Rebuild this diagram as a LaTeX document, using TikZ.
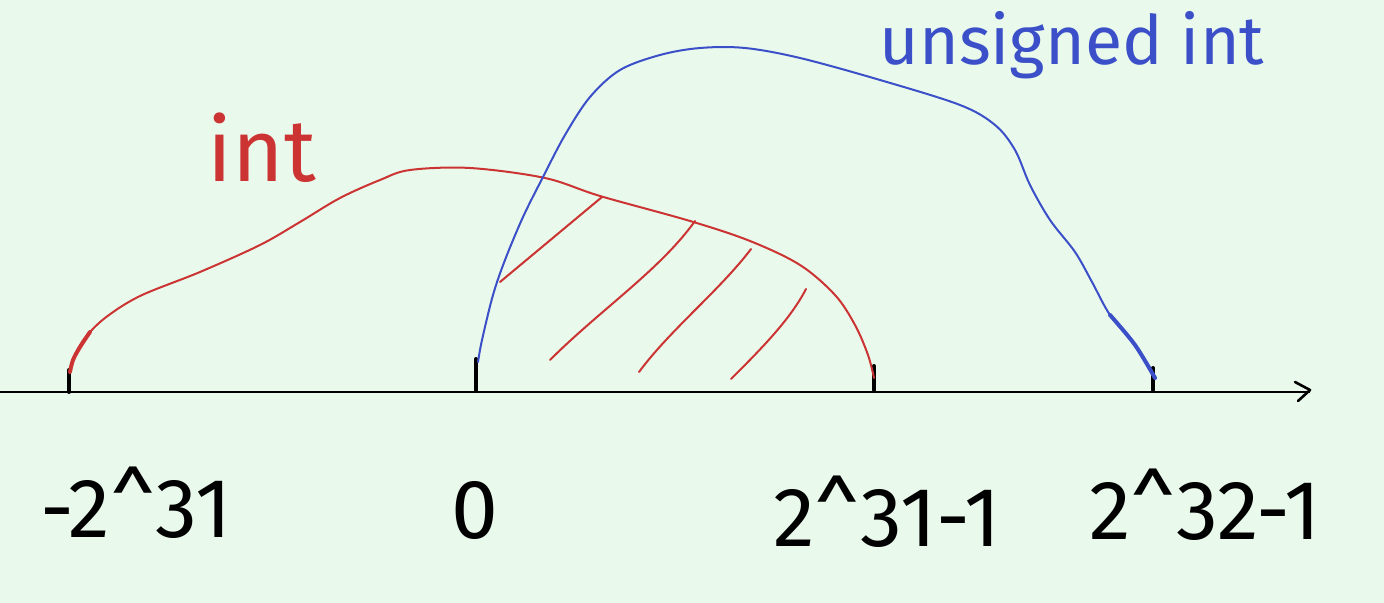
\documentclass[tikz,border=0pt]{standalone}
\usepackage{fontspec}
\setmainfont{Fira Sans}
\definecolor{bg}{HTML}{E9F9EC}
\definecolor{rd}{HTML}{CC3333}
\definecolor{bl}{HTML}{3B4FC8}
\tikzset{
  tick/.style={line width=2pt, line cap=round},
  curve/.style={line width=1pt, line cap=round, line join=round},
  numlabel/.style={font=\fontsize{42}{46}\selectfont, text=black, inner sep=0pt},
}
\begin{document}
\begin{tikzpicture}[x=0.5pt,y=-0.5pt]
\fill[bg] (0,0) rectangle (1384,603);
\useasboundingbox (0,0) rectangle (1384,603);
% axis
\coordinate (a0) at (0,392);
\coordinate (a1) at (1310,392);
\draw[line width=1pt] (a0) -- (a1);
\draw[line width=1.3pt, line cap=round, line join=round] (1295,382) -- (1310,390) -- (1298,401);
% ticks
\coordinate (t1) at (69,392); \coordinate (t2) at (476,390);
\coordinate (t3) at (874,390); \coordinate (t4) at (1153,390);
\draw[tick] (t1) -- ++(0,-22);
\draw[tick] (t2) -- ++(0,-31);
\draw[tick] (t3) -- ++(0,-24);
\draw[tick] (t4) -- ++(0,-22);
% int curve
\draw[rd, curve] plot[smooth, tension=0.55] coordinates {(70,370) (74,357) (85,338) (105,318) (140,296) (200,272) (260,245) (300,222) (340,198) (380,180) (410,170) (470,168) (545,178) (600,196) (690,221) (750,241) (800,265) (835,295) (855,325) (868,355) (874,378)};
\draw[rd, line width=2pt, line cap=round] plot[smooth, tension=0.55] coordinates {(70,372) (73,360) (80,347) (90,332)};
% unsigned int curve
\draw[bl, curve] plot[smooth, tension=0.55] coordinates {(478,362) (482,340) (493,295) (505,260) (523,217) (543,177) (565,135) (590,97) (620,70) (660,55) (700,48) (745,48) (800,58) (880,80) (960,105) (995,125) (1015,150) (1030,185) (1050,220) (1075,252) (1092,282) (1110,315) (1135,345) (1155,378)};
\draw[bl, line width=2pt, line cap=round] plot[smooth, tension=0.55] coordinates {(1110,315) (1135,345) (1155,378)};
% hatching
\draw[rd, curve] (500,282) -- (602,197);
\draw[rd, curve] (550,360) .. controls (600,310) and (660,270) .. (695,221);
\draw[rd, curve] (639,372) .. controls (670,330) and (720,290) .. (751,249);
\draw[rd, curve] (731,379) .. controls (760,350) and (790,320) .. (806,289);
% labels
\node[font=\fontsize{44}{48}\selectfont, text=rd, inner sep=0pt] (lint) at (262,148) {int};
\node[font=\fontsize{34}{38}\selectfont, text=bl, inner sep=0pt] (luint) at (1072,45) {unsigned int};
\node[numlabel] (l1) at (136,503) {-2\textasciicircum 31};
\node[numlabel] (l2) at (475,510) {0};
\node[numlabel] (l3) at (887,512) {2\textasciicircum 31-1};
\node[numlabel] (l4) at (1205,505) {2\textasciicircum 32-1};
\end{tikzpicture}
\end{document}
